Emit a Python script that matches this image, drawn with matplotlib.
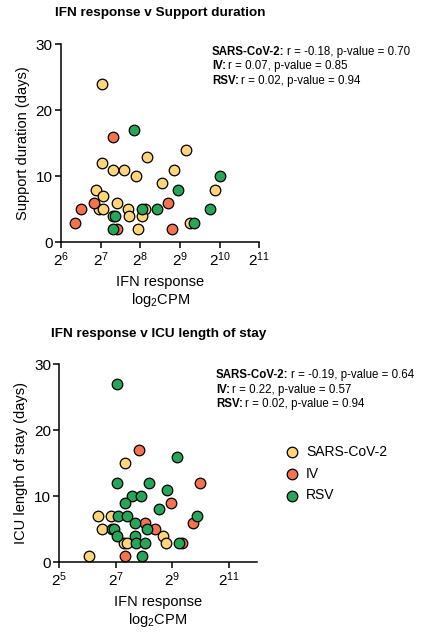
import numpy as np
import matplotlib
matplotlib.use('Agg')
import matplotlib.pyplot as plt
from matplotlib.ticker import FixedLocator, FuncFormatter, NullLocator

plt.rcParams['font.family'] = ['Liberation Sans', 'DejaVu Sans']
plt.rcParams['mathtext.fontset'] = 'custom'
plt.rcParams['mathtext.rm'] = 'Liberation Sans'
plt.rcParams['mathtext.it'] = 'Liberation Sans:italic'
plt.rcParams['mathtext.bf'] = 'Liberation Sans:bold'

COLORS = {"SARS-CoV-2": "#FDD57A", "IV": "#F4734E", "RSV": "#27A55A"}

# ---- Support duration (x = log2 CPM, y = days)
sup_cov_x = [7.03, 7.03, 7.31, 7.58, 8.18, 9.16, 7.89, 8.84, 8.54, 9.88, 6.88, 7.07,
             7.40, 6.95, 7.05, 7.70, 8.11, 7.30, 7.71, 8.04, 9.26, 7.94]
sup_cov_y = [24, 12, 11, 11, 13, 14, 10, 11, 9, 8, 8, 7,
             6, 5, 5, 5, 5, 4, 4, 4, 3, 2]
sup_iv_x = [7.30, 6.84, 6.51, 8.69, 6.35, 7.41, 8.81]
sup_iv_y = [16, 6, 5, 6, 3, 2, 2]
sup_rsv_x = [7.83, 8.94, 10.0, 8.05, 8.41, 9.75, 7.36, 9.35, 7.32]
sup_rsv_y = [17, 8, 10, 5, 5, 5, 4, 3, 2]

# ---- ICU length of stay
icu_cov_x = [7.32, 6.36, 6.83, 6.50, 8.69, 8.80, 7.30, 7.40, 6.06]
icu_cov_y = [15, 7, 7, 5, 4, 3, 3, 3, 1]
icu_iv_x = [7.83, 10.0, 8.95, 8.05, 9.75, 8.40, 9.36, 7.34]
icu_iv_y = [17, 12, 9, 6, 6, 5, 3, 1]
icu_rsv_x = [7.05, 9.16, 7.03, 8.17, 8.83, 7.58, 7.90, 7.32, 8.52, 7.08, 7.40, 9.89,
             7.70, 6.88, 6.95, 8.10, 7.06, 7.70, 7.73, 8.05, 9.26, 7.94]
icu_rsv_y = [27, 16, 12, 12, 11, 10, 10, 9, 8, 7, 7, 7,
             6, 5, 5, 5, 4, 4, 3, 3, 3, 1]

sup_stats = ["SARS-CoV-2: r = -0.18, p-value = 0.70",
             "IV: r = 0.07, p-value = 0.85",
             "RSV: r = 0.02, p-value = 0.94"]
icu_stats = ["SARS-CoV-2: r = -0.19, p-value = 0.64",
             "IV: r = 0.22, p-value = 0.57",
             "RSV: r = 0.02, p-value = 0.94"]


def style_axes(ax, xmin, xmax, xticks, ylabel):
    ax.set_xscale('log', base=2)
    ax.set_xlim(2 ** xmin, 2 ** xmax)
    ax.xaxis.set_major_locator(FixedLocator([2 ** k for k in xticks]))
    ax.xaxis.set_minor_locator(NullLocator())
    ax.xaxis.set_major_formatter(FuncFormatter(lambda v, p: r'$2^{%d}$' % round(np.log2(v))))
    ax.set_ylim(0, 30)
    ax.set_yticks([0, 10, 20, 30])
    for s in ['top', 'right']:
        ax.spines[s].set_visible(False)
    for s in ['left', 'bottom']:
        ax.spines[s].set_linewidth(1.1)
    ax.tick_params(direction='out', length=4, width=1.1, labelsize=11, pad=2)
    ax.set_ylabel(ylabel, fontsize=10.5, labelpad=4)
    ax.set_xlabel("IFN response\nlog$_2$CPM", fontsize=10.5, labelpad=4, linespacing=1.2)


def draw_points(ax, groups):
    for name, xs, ys in groups:
        ax.scatter(2 ** np.array(xs), ys, s=58, color=COLORS[name], edgecolor='black',
                   linewidth=0.9, zorder=3, label=name, clip_on=False)


def draw_stats(fig, x, y, lines):
    step = 14.6 / 633
    for i, line in enumerate(lines):
        name, rest = line.split(":", 1)
        t = fig.text(x, y - i * step, name + ":", fontsize=8.3, fontweight='bold', va='center')
        fig.canvas.draw()
        bb = t.get_window_extent()
        fig.text((bb.x1 + 2.5) / fig.bbox.width, y - i * step, rest.strip(),
                 fontsize=8.3, va='center')


fig = plt.figure(figsize=(4.22, 6.33), dpi=100)

ax1 = fig.add_axes([61 / 422, 1 - 242.3 / 633, 198.3 / 422, 198 / 633])
draw_points(ax1, [("SARS-CoV-2", sup_cov_x, sup_cov_y),
                  ("IV", sup_iv_x, sup_iv_y),
                  ("RSV", sup_rsv_x, sup_rsv_y)])
style_axes(ax1, 6, 11, [6, 7, 8, 9, 10, 11], "Support duration (days)")
fig.text(55 / 422, 1 - 13 / 633, "IFN response v Support duration",
         fontsize=9.7, fontweight='bold', va='center')

ax2 = fig.add_axes([59.3 / 422, 1 - 562.3 / 633, 197.4 / 422, 198 / 633])
draw_points(ax2, [("SARS-CoV-2", icu_cov_x, icu_cov_y),
                  ("IV", icu_iv_x, icu_iv_y),
                  ("RSV", icu_rsv_x, icu_rsv_y)])
style_axes(ax2, 5, 12, [5, 7, 9, 11], "ICU length of stay (days)")
fig.text(51 / 422, 1 - 334 / 633, "IFN response v ICU length of stay",
         fontsize=9.7, fontweight='bold', va='center')

ax2.legend(loc='upper left', bbox_to_anchor=(285 / 422, 1 - 445 / 633),
           bbox_transform=fig.transFigure, frameon=False, fontsize=10,
           handletextpad=0.5, labelspacing=0.55, borderaxespad=0, borderpad=0,
           handlelength=1.0)

draw_stats(fig, 212 / 422, 1 - 51.7 / 633, sup_stats)
draw_stats(fig, 216 / 422, 1 - 375 / 633, icu_stats)

fig.savefig("out.png", dpi=100)
plt.close(fig)
